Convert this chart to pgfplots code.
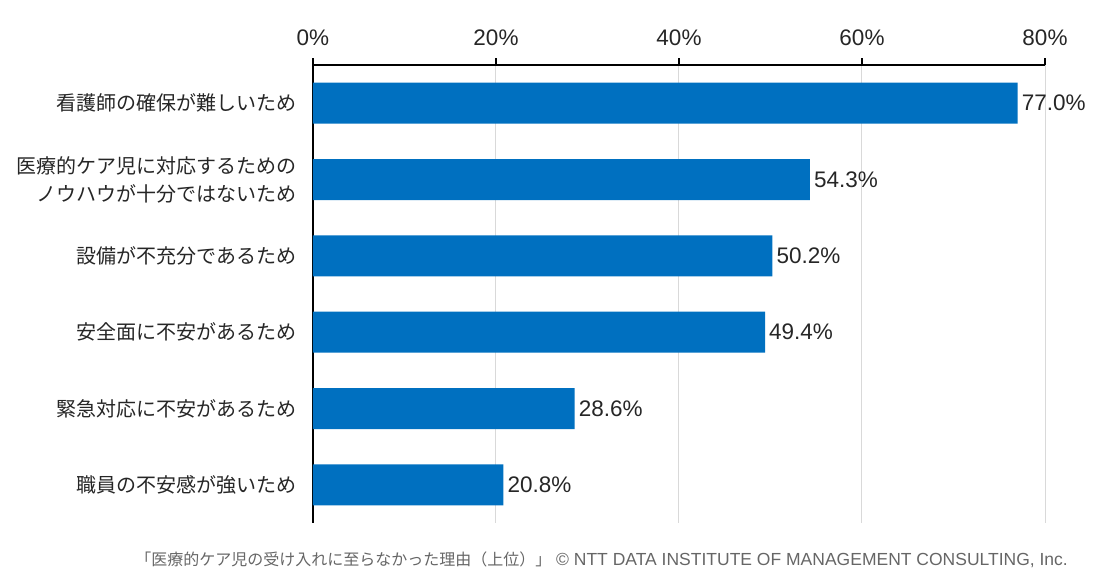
\documentclass[border=0pt]{standalone}
\usepackage{pgfplots}
\pgfplotsset{compat=1.18}
\usepackage{fontspec}
\setmainfont{Liberation Sans}
\newfontfamily\jp{Noto Sans CJK JP}
\definecolor{barblue}{HTML}{0070C0}
\definecolor{txt}{HTML}{262626}
\definecolor{foot}{HTML}{666666}
\definecolor{gridc}{HTML}{D9D9D9}
\begin{document}
\begin{tikzpicture}
\useasboundingbox (0,0) rectangle (1104pt,579pt);
\begin{axis}[
  at={(313pt,56pt)}, anchor=south west,
  scale only axis, width=732pt, height=458pt,
  xmin=0, xmax=80, ymin=-0.5, ymax=5.5,
  axis x line*=top, axis y line*=left,
  axis line style={black, line width=1.2pt},
  xtick={0,20,40,60,80},
  xticklabels={0\%,20\%,40\%,60\%,80\%},
  ytick={0,1,2,3,4,5},
  yticklabels={職員の不安感が強いため,緊急対応に不安があるため,安全面に不安があるため,設備が不充分であるため,{医療的ケア児に対応するための\\ノウハウが十分ではないため},看護師の確保が難しいため},
  tick align=outside, major tick length=7pt,
  x tick style={black, line width=1.2pt},
  y tick style={draw=none},
  xticklabel style={font=\fontsize{22.5}{26}\selectfont, text=txt, inner sep=0pt, yshift=12pt},
  yticklabel style={font=\jp\fontsize{20}{28}\selectfont, text=txt, align=right, inner sep=0pt, xshift=-9pt},
  xmajorgrids, grid style={gridc, line width=1pt},
  clip=false,
  xbar, bar width=41pt,
  point meta=x,
  nodes near coords={\pgfmathprintnumber[fixed,fixed zerofill,precision=1,assume math mode=true]{\pgfplotspointmeta}\%},
  nodes near coords style={font=\fontsize{22.5}{26}\selectfont, text=txt, anchor=west, inner sep=4pt},
]
\addplot[fill=barblue, draw=none] coordinates {
  (20.8,0) (28.6,1) (49.4,2) (50.2,3) (54.3,4) (77.0,5)
};
\end{axis}
\node[anchor=base east, inner sep=0pt, text=foot] at (1068pt,14pt)
  {{\jp\fontsize{16}{18}\selectfont 「医療的ケア児の受け入れに至らなかった理由（上位）」}\fontsize{17.5}{18}\selectfont\ ©\ NTT DATA INSTITUTE OF MANAGEMENT CONSULTING, Inc.};
\end{tikzpicture}
\end{document}
